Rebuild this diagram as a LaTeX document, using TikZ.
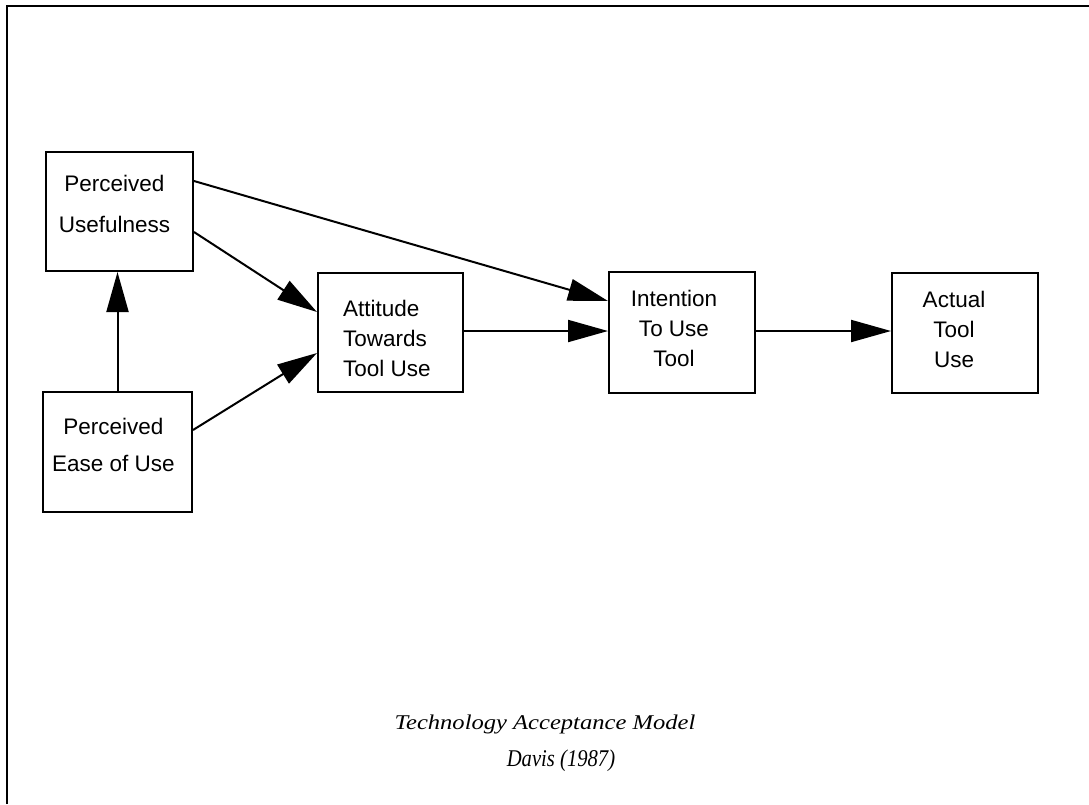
\documentclass[tikz,border=0pt]{standalone}
\usepackage{fontspec}
\setmainfont{Liberation Serif}
\setsansfont{Liberation Sans}
\usetikzlibrary{arrows.meta}
\begin{document}
\begin{tikzpicture}[x=1pt,y=-1pt,
  box/.style={draw,line width=2pt,rectangle,inner sep=0pt},
  txt/.style={inner sep=0pt,font=\sffamily\fontsize{22.5}{30}\selectfont},
  conn/.style={line width=2pt,-{Triangle[length=40pt,width=22pt]}},
  captxt/.style={inner sep=0pt,font=\rmfamily\itshape\fontsize{21}{25}\selectfont}]
\useasboundingbox (0,0) rectangle (1089,804);
% frame
\draw[line width=2.5pt] (7,804) -- (7,6) -- (1089,6);
% boxes
\node[box,minimum width=147pt,minimum height=119pt] (pu) at (119.5,211.5) {};
\node[box,minimum width=149pt,minimum height=120pt] (peou) at (117.5,452) {};
\node[box,minimum width=145pt,minimum height=119pt] (att) at (390.5,332.5) {};
\node[box,minimum width=146pt,minimum height=121pt] (int) at (682,332.5) {};
\node[box,minimum width=146pt,minimum height=120pt] (act) at (965,333) {};
% texts
\node[txt,align=center,font=\sffamily\fontsize{22.5}{41}\selectfont] (putxt) at (114.5,203.5) {Perceived\\Usefulness};
\node[txt,align=center,font=\sffamily\fontsize{22.5}{37}\selectfont] (peoutxt) at (113.5,444.5) {Perceived\\Ease of Use};
\node[txt,align=left,anchor=west] (atttxt) at (343,338) {Attitude\\Towards\\Tool Use};
\node[txt,align=center] (inttxt) at (674,328) {Intention\\To Use\\Tool};
\node[txt,align=center] (acttxt) at (954,329) {Actual\\Tool\\Use};
% connectors
\draw[conn] ([yshift=30.5pt]pu.east) -- ([yshift=31.5pt]int.west);
\draw[conn] ([yshift=-20.5pt]pu.east) -- ([yshift=20.5pt]att.west);
\draw[conn] ([yshift=22pt]peou.east) -- ([yshift=-20.5pt]att.west);
\draw[conn] ([yshift=1.5pt]att.east) -- ([yshift=1.5pt]int.west);
\draw[conn] ([yshift=1.5pt]int.east) -- ([yshift=1.5pt]int.east -| act.west);
\draw[conn] (peou.north) -- (peou.north |- pu.south);
% captions
\node[captxt] (title) at (545,724) {\scalebox{1.17}[1]{Technology Acceptance Model}};
\node[captxt,font=\rmfamily\itshape\fontsize{24}{28}\selectfont] (author) at (561,761) {\scalebox{0.86}[1]{Davis (1987)}};
\end{tikzpicture}
\end{document}
